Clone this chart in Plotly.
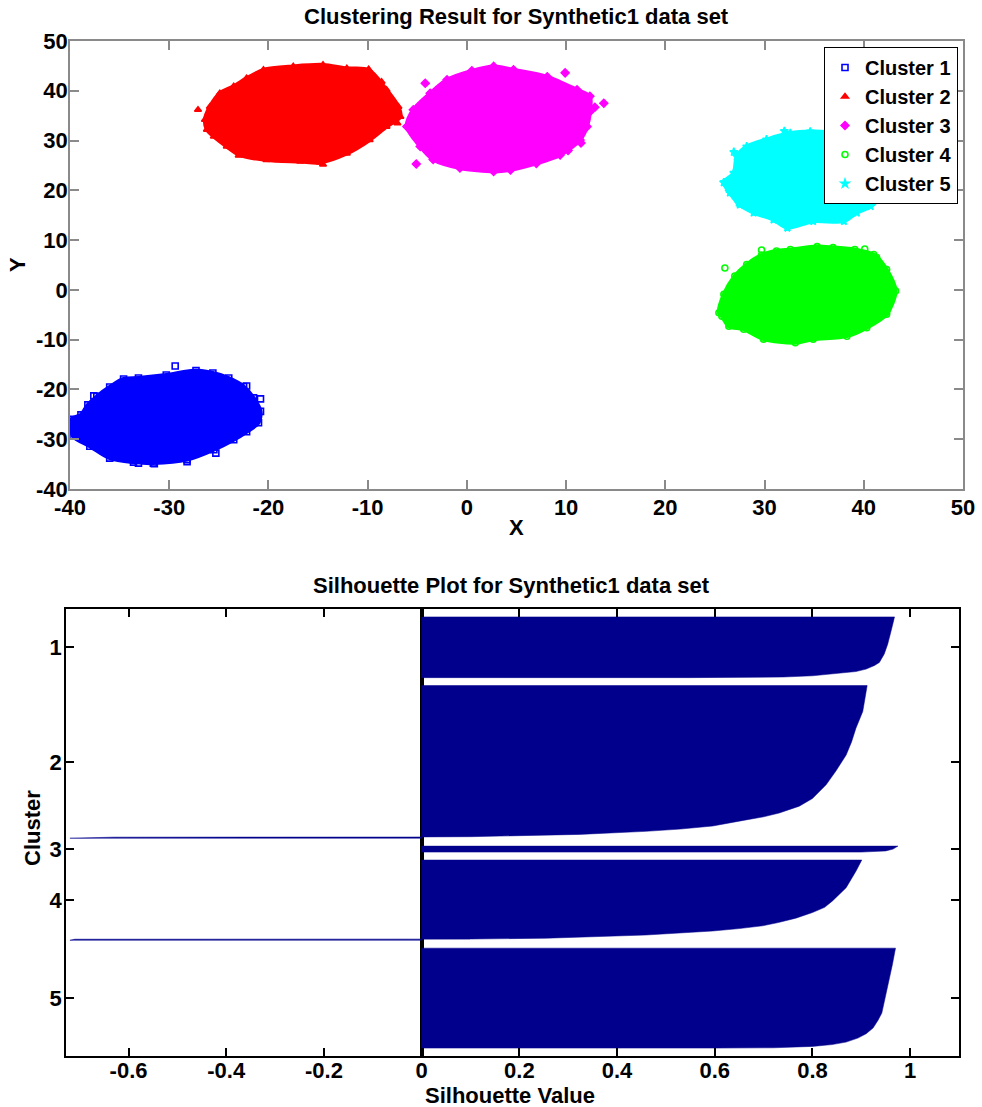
import plotly.graph_objects as go

# ---------------- Data: clustering result (cloud outlines) -------------
cluster_names = ["Cluster 1", "Cluster 2", "Cluster 3", "Cluster 4", "Cluster 5"]
cluster_colors = ["#0000FF", "#FF0000", "#FF00FF", "#00FF00", "#00FFFF"]
cluster_symbols = ["square-open", "triangle-up", "diamond", "circle-open", "star"]

c1_x = [-39.9, -38.9, -38.2, -37.3, -36.0, -34.6, -33.1, -30.3, -27.3, -25.6, -24.0, -22.5, -21.5,
        -20.8, -21.0, -22.2, -23.5, -25.5, -28.2, -31.6, -33.6, -36.0, -38.0, -39.7, -39.9]
c1_y = [-26.0, -25.1, -23.1, -21.4, -19.5, -17.9, -17.7, -17.1, -16.2, -16.7, -17.7, -19.4, -21.7,
        -24.4, -26.7, -28.5, -30.1, -32.1, -34.1, -34.8, -34.6, -33.8, -31.4, -29.4, -27.3]
c1_ox = [-29.4, -22.2, -20.8, -25.3, -33.1, -31.5, -28.2, -37.6, -35.5]
c1_oy = [-15.3, -19.3, -21.9, -32.8, -34.8, -34.9, -34.5, -21.3, -19.6]

c2_x = [-26.2, -25.5, -24.2, -22.9, -20.2, -16.8, -14.8, -12.1, -9.8, -8.1, -6.7, -6.9, -8.1,
        -9.9, -12.1, -14.5, -17.5, -20.5, -22.2, -23.5, -24.9, -25.9, -26.4]
c2_y = [32.2, 30.8, 28.8, 27.1, 26.1, 25.8, 25.6, 27.4, 30.1, 32.8, 34.8, 36.8, 40.2,
        44.2, 44.5, 45.2, 44.9, 44.2, 42.5, 40.9, 39.5, 36.8, 34.2]
c2_ox = [-27.1, -8.6, -22.2, -14.5, -9.9, -23.0, -7.0]
c2_oy = [36.2, 41.8, 42.4, 25.2, 44.3, 27.0, 33.5]

c3_x = [-6.05, -5.4, -3.7, -2.0, 0.5, 2.7, 4.7, 8.1, 11.1, 12.4, 12.4, 12.1, 11.4, 9.4, 7.0,
        4.4, 2.7, -0.7, -3.4, -4.7]
c3_y = [32.8, 36.2, 39.5, 42.2, 44.0, 44.9, 44.2, 42.8, 40.2, 38.9, 35.8, 32.8, 30.1, 27.1, 25.4,
        24.1, 23.8, 24.5, 26.2, 28.8]
c3_ox = [-5.1, -4.2, 13.8, 9.9, 12.9, 11.5, 10.2]
c3_oy = [25.3, 41.5, 37.5, 43.6, 36.7, 29.5, 28.0]

c4_x = [25.4, 25.9, 27.0, 28.2, 29.7, 31.2, 32.6, 35.3, 36.9, 39.1, 41.0, 42.3, 43.2, 42.3, 40.3,
        38.3, 34.9, 33.1, 29.9, 27.9, 26.4, 25.7]
c4_y = [-4.6, -0.9, 2.8, 5.1, 7.0, 7.8, 8.1, 8.7, 8.5, 8.1, 7.1, 4.1, -0.2, -4.9, -7.6,
        -9.3, -9.9, -10.6, -9.9, -7.9, -7.3, -5.3]
c4_ox = [26.0, 29.7, 42.3, 26.4, 40.1, 41.3, 39.0]
c4_oy = [4.4, 8.0, -4.5, -6.5, 8.2, 6.5, -8.0]

c5_x = [25.9, 26.9, 27.2, 28.2, 30.2, 32.6, 34.6, 37.0, 40.0, 41.7, 41.7, 40.7, 39.3, 38.0, 34.9,
        32.3, 30.9, 28.9, 27.5, 26.5]
c5_y = [21.6, 23.5, 26.8, 28.8, 30.2, 31.5, 31.8, 31.5, 28.2, 23.5, 18.8, 16.8, 15.5, 13.8, 13.8,
        12.5, 14.1, 15.5, 17.1, 19.5]
c5_ox = [26.9, 32.0, 25.9, 32.3, 26.3, 27.4]
c5_oy = [27.7, 31.9, 21.6, 12.5, 20.6, 17.5]

scatter_ticks = [-40, -30, -20, -10, 0, 10, 20, 30, 40, 50]
scatter_ticktext = ["-40", "-30", "-20", "-10", "0", "10", "20", "30", "40", "50"]

# ---------------- Data: silhouette plot ----------------
sil_labels = ["1", "2", "3", "4", "5"]
sil_sizes = [1215, 3055, 120, 1605, 2000]   # points per cluster
sil_gap = 158                                # spacing between clusters (points)
# sorted silhouette profile: position within cluster (0 = top, 1 = bottom) -> value
s1_f = [0, 0.2, 0.45, 0.61, 0.75, 0.80, 0.86, 0.90, 0.94, 0.97, 0.99, 1.0]
s1_v = [0.968, 0.962, 0.954, 0.947, 0.937, 0.927, 0.91, 0.889, 0.835, 0.80, 0.74, 0.55]
s2_f = [0, 0.17, 0.28, 0.37, 0.455, 0.56, 0.65, 0.74, 0.79, 0.835, 0.86, 0.88, 0.90, 0.92, 0.94,
        0.955, 0.975, 0.985, 0.99, 0.9915, 0.992, 0.993, 1.0]
s2_v = [0.912, 0.903, 0.889, 0.88, 0.869, 0.848, 0.828, 0.80, 0.773, 0.732, 0.70, 0.664, 0.63,
        0.596, 0.53, 0.459, 0.323, 0.2, 0.10, 0.0, -0.02, -0.63, -0.72]
s3_f = [0, 0.5, 0.8, 1.0]
s3_v = [0.975, 0.965, 0.95, 0.9]
s4_f = [0, 0.14, 0.345, 0.51, 0.59, 0.655, 0.725, 0.78, 0.82, 0.855, 0.885, 0.935, 0.975, 0.985,
        0.986, 0.987, 1.0]
s4_v = [0.901, 0.889, 0.869, 0.841, 0.825, 0.80, 0.766, 0.73, 0.698, 0.65, 0.596, 0.459, 0.255,
        0.1, 0.0, -0.71, -0.72]
s5_f = [0, 0.157, 0.39, 0.556, 0.65, 0.723, 0.8, 0.856, 0.9, 0.94, 0.965, 0.983, 0.997, 1.0]
s5_v = [0.970, 0.964, 0.954, 0.947, 0.942, 0.934, 0.924, 0.91, 0.893, 0.869, 0.84, 0.80, 0.72, 0.6]
sil_ticks = [-0.6, -0.4, -0.2, 0, 0.2, 0.4, 0.6, 0.8, 1]
sil_ticktext = ["-0.6", "-0.4", "-0.2", "0", "0.2", "0.4", "0.6", "0.8", "1"]
sil_xmin, sil_xmax = -0.728, 1.1

# ---------------- Figure ----------------
FONT = "Liberation Sans, Arial, sans-serif"
W, H = 982, 1107
fig = go.Figure()

outlines = [(c1_x, c1_y, c1_ox, c1_oy), (c2_x, c2_y, c2_ox, c2_oy), (c3_x, c3_y, c3_ox, c3_oy),
            (c4_x, c4_y, c4_ox, c4_oy), (c5_x, c5_y, c5_ox, c5_oy)]
for (ox, oy, px, py), col in zip(outlines, cluster_colors):
    fig.add_trace(go.Scatter(x=ox + [ox[0]], y=oy + [oy[0]], mode="lines", fill="toself",
                             fillcolor=col, line=dict(color=col, width=4, shape="spline",
                                                      smoothing=0.8),
                             showlegend=False, hoverinfo="skip", xaxis="x", yaxis="y"))
for (ox, oy, px, py), col, sym, name in zip(outlines, cluster_colors, cluster_symbols, cluster_names):
    fig.add_trace(go.Scatter(x=ox + px, y=oy + py, mode="markers", name=name,
                             marker=dict(symbol=sym, color=col, size=6,
                                         line=dict(color=col, width=1.6)),
                             xaxis="x", yaxis="y"))

# silhouette bands
profiles = [(s1_f, s1_v), (s2_f, s2_v), (s3_f, s3_v), (s4_f, s4_v), (s5_f, s5_v)]
navy = "#00008C"
pos = sil_gap
centers = []
for (ff, vv), n in zip(profiles, sil_sizes):
    start, end = pos, pos + n
    xs = [0] + list(vv) + [0, 0]
    ys = [start] + [start + f * n for f in ff] + [end, start]
    fig.add_trace(go.Scatter(x=xs, y=ys, mode="lines", fill="toself", fillcolor=navy,
                             line=dict(color=navy, width=0.5), showlegend=False,
                             hoverinfo="skip", xaxis="x2", yaxis="y2"))
    centers.append(start + n / 2)
    pos = end + sil_gap
total = pos

FS = 22
tick_font = dict(family=FONT, size=FS, color="black", weight="bold")
top_axis = dict(showline=True, linecolor="#8a8a8a", linewidth=1.5, mirror="ticks",
                ticks="inside", ticklen=9, tickcolor="#8a8a8a", tickwidth=1.5,
                showgrid=False, zeroline=False, tickfont=tick_font, automargin=False)
bot_axis = dict(showline=True, linecolor="black", linewidth=1.5, mirror="ticks",
                ticks="inside", ticklen=8, tickcolor="black", tickwidth=1.5,
                showgrid=False, tickfont=tick_font, automargin=False)

fig.update_layout(
    width=W, height=H, margin=dict(l=0, r=0, t=0, b=0, autoexpand=False),
    paper_bgcolor="white", plot_bgcolor="white",
    xaxis=dict(domain=[70 / W, 963 / W], range=[-40, 50], tickvals=scatter_ticks,
               ticktext=scatter_ticktext, anchor="y", ticklabelstandoff=-2, **top_axis),
    yaxis=dict(domain=[1 - 489 / H, 1 - 41 / H], range=[-40, 50], tickvals=scatter_ticks,
               ticktext=scatter_ticktext, anchor="x", ticklabelstandoff=-4, **top_axis),
    xaxis2=dict(domain=[66 / W, 959 / W], range=[sil_xmin, sil_xmax], tickvals=sil_ticks,
                ticktext=sil_ticktext, anchor="y2", zeroline=True, zerolinecolor="black",
                zerolinewidth=4, ticklabelstandoff=-6, **bot_axis),
    yaxis2=dict(domain=[1 - 1056 / H, 1 - 609 / H], range=[total, 0], tickvals=centers,
                ticktext=sil_labels, anchor="x2", zeroline=False, ticklabelstandoff=-2,
                **bot_axis),
    legend=dict(x=958 / W, xanchor="right", y=1 - 47 / H, yanchor="top",
                bgcolor="white", bordercolor="black", borderwidth=1,
                font=dict(family=FONT, size=20, color="black", weight="bold"),
                itemsizing="trace", tracegroupgap=0),
    showlegend=True,
)

def ann(text, x, y, size=FS, angle=0):
    fig.add_annotation(text=text, x=x / W, y=1 - y / H, xref="paper", yref="paper",
                       showarrow=False, textangle=angle, xanchor="center", yanchor="middle",
                       font=dict(family=FONT, size=size, color="black", weight="bold"))

ann("Clustering Result for Synthetic1 data set", 516, 16)
ann("X", 516, 527)
ann("Y", 17, 265, angle=-90)
ann("Silhouette Plot for Synthetic1 data set", 511, 585)
ann("Silhouette Value", 510, 1095)
ann("Cluster", 32, 828, angle=-90)

fig.write_html("out.html")
